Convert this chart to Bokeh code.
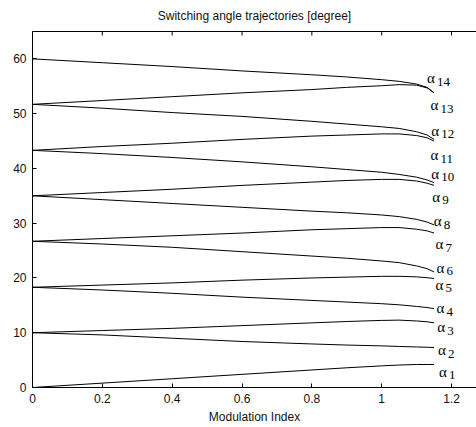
from bokeh.plotting import figure
from bokeh.models import Range1d, LinearAxis, FixedTicker, ColumnDataSource
from bokeh.core.properties import value
from bokeh.embed import file_html
from bokeh.resources import INLINE

# ---- data ----
m = [0.0, 0.2, 0.4, 0.6, 0.8, 0.9, 1.0, 1.05, 1.1, 1.13, 1.15]
alpha1 = [0.0, 0.8, 1.6, 2.4, 3.2, 3.6, 3.95, 4.1, 4.2, 4.2, 4.2]
alpha2 = [10.0, 9.6, 9.0, 8.4, 7.95, 7.75, 7.6, 7.5, 7.4, 7.35, 7.3]
alpha3 = [10.0, 10.4, 10.8, 11.3, 11.8, 12.05, 12.25, 12.3, 12.15, 12.0, 11.8]
alpha4 = [18.3, 17.8, 17.2, 16.5, 15.9, 15.6, 15.3, 15.1, 14.8, 14.6, 14.4]
alpha5 = [18.3, 18.7, 19.1, 19.6, 20.0, 20.15, 20.3, 20.3, 20.2, 20.05, 19.9]
alpha6 = [26.7, 26.2, 25.6, 24.8, 24.0, 23.6, 23.1, 22.8, 22.2, 21.7, 21.1]
alpha7 = [26.7, 27.2, 27.7, 28.2, 28.8, 29.0, 29.2, 29.2, 28.9, 28.6, 28.2]
alpha8 = [35.0, 34.3, 33.6, 32.9, 32.2, 31.9, 31.5, 31.2, 30.7, 30.2, 29.7]
alpha9 = [35.0, 35.6, 36.2, 36.9, 37.5, 37.8, 38.0, 38.0, 37.7, 37.3, 36.9]
alpha10 = [43.3, 42.7, 42.0, 41.2, 40.3, 39.8, 39.3, 38.9, 38.4, 37.9, 37.4]
alpha11 = [43.3, 44.0, 44.6, 45.3, 45.9, 46.1, 46.3, 46.3, 46.0, 45.6, 45.0]
alpha12 = [51.7, 51.0, 50.2, 49.5, 48.6, 48.1, 47.6, 47.3, 46.7, 46.1, 45.3]
alpha13 = [51.7, 52.4, 53.1, 53.8, 54.4, 54.8, 55.1, 55.3, 55.2, 54.7, 53.8]
alpha14 = [60.0, 59.3, 58.6, 57.8, 57.1, 56.7, 56.2, 55.9, 55.4, 54.8, 53.8]
series = [alpha1, alpha2, alpha3, alpha4, alpha5, alpha6, alpha7,
          alpha8, alpha9, alpha10, alpha11, alpha12, alpha13, alpha14]

label_sub = [str(i) for i in range(1, 15)]
label_x = [1.164, 1.161, 1.159, 1.157, 1.154, 1.157, 1.154,
           1.149, 1.145, 1.142, 1.140, 1.142, 1.140, 1.130]
label_y = [2.9, 6.8, 11.0, 14.5, 18.8, 21.9, 26.2,
           30.4, 34.8, 39.0, 42.4, 46.9, 51.5, 56.5]

x_ticks = [0, 0.2, 0.4, 0.6, 0.8, 1.0, 1.2]
x_tick_labels = ["0", "0.2", "0.4", "0.6", "0.8", "1", "1.2"]
y_ticks = [0, 10, 20, 30, 40, 50, 60]

title_text = "Switching angle trajectories [degree]"
x_label = "Modulation Index"

FONT = "Liberation Sans"
X_MAX = 1.2715
Y_MAX = 65

p = figure(width=476, height=427, output_backend="svg", toolbar_location=None,
           x_range=Range1d(0, X_MAX), y_range=Range1d(0, Y_MAX),
           x_axis_location=None, y_axis_location=None,
           min_border_left=32, min_border_right=0, min_border_top=31,
           min_border_bottom=40)
p.outline_line_color = None
p.background_fill_color = "white"
p.border_fill_color = "white"
p.xgrid.visible = False
p.ygrid.visible = False


def style_axis(ax):
    ax.axis_line_color = "black"
    ax.major_tick_line_color = "black"
    ax.major_tick_in = 4
    ax.major_tick_out = 0
    ax.minor_tick_line_color = None
    ax.major_label_text_font = FONT
    ax.major_label_text_font_size = "12px"
    ax.major_label_text_color = "#111111"


xb = LinearAxis(ticker=FixedTicker(ticks=x_ticks))
style_axis(xb)
xb.major_label_overrides = {t: l for t, l in zip(x_ticks, x_tick_labels)}
xb.major_label_standoff = 6
xb.axis_label = x_label
xb.axis_label_text_font = FONT
xb.axis_label_text_font_size = "12px"
xb.axis_label_text_font_style = "normal"
xb.axis_label_text_color = "#111111"
xb.axis_label_standoff = 4
p.add_layout(xb, "below")

# top border line carrying the chart title as its label; ticks drawn as segments
xt = LinearAxis(ticker=FixedTicker(ticks=[]))
xt.axis_line_color = "black"
xt.major_tick_line_color = None
xt.minor_tick_line_color = None
xt.major_label_text_font_size = "12px"
xt.major_label_standoff = 0
xt.axis_label = title_text
xt.axis_label_text_font = FONT
xt.axis_label_text_font_size = "12px"
xt.axis_label_text_font_style = "normal"
xt.axis_label_text_color = "#111111"
xt.axis_label_standoff = 9
p.add_layout(xt, "above")

# inward tick marks on the top edge, at the x tick values
tick_len = Y_MAX * 4 / 356
p.segment(x0=x_ticks, y0=[Y_MAX] * len(x_ticks), x1=x_ticks,
          y1=[Y_MAX - tick_len] * len(x_ticks), line_color="black", line_width=1)

yl = LinearAxis(ticker=FixedTicker(ticks=y_ticks))
style_axis(yl)
yl.major_label_standoff = 6
p.add_layout(yl, "left")

for s in series:
    p.line(m, s, line_color="black", line_width=1)

src = ColumnDataSource(dict(x=label_x, y=label_y, sub=label_sub,
                            a=["α"] * len(label_sub)))
p.text(x="x", y="y", text="a", source=src, text_font=value("Liberation Serif"),
       text_font_size="15px", text_baseline="alphabetic", text_align="left",
       text_color="black")
p.text(x="x", y="y", text="sub", source=src, text_font=value("Liberation Serif"),
       text_font_size="13px", text_baseline="alphabetic", text_align="left",
       x_offset=10, y_offset=3.5, text_color="black")

open("out.html", "w").write(file_html(p, INLINE))
